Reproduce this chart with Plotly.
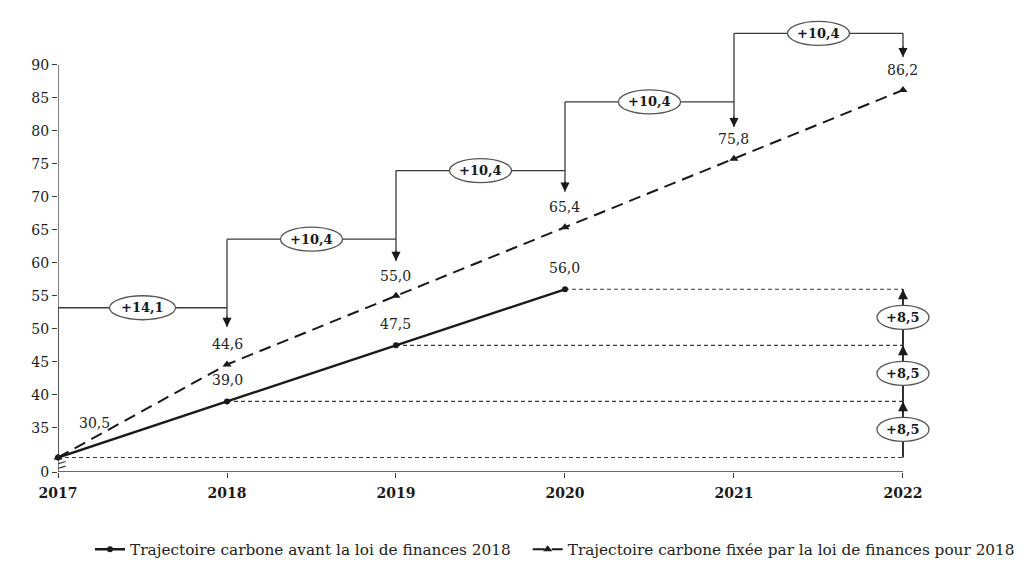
import plotly.graph_objects as go

# ---- data ----
years = [2017, 2018, 2019, 2020, 2021, 2022]
year_text = ["2017", "2018", "2019", "2020", "2021", "2022"]
before_years = [2017, 2018, 2019, 2020]
before_vals = [30.5, 39.0, 47.5, 56.0]
lf_vals = [30.5, 44.6, 55.0, 65.4, 75.8, 86.2]
step_levels = [53.2, 63.6, 74.0, 84.4, 94.8]
step_texts = ["+14,1", "+10,4", "+10,4", "+10,4", "+10,4"]
arrow_tips = [50.3, 60.3, 70.8, 80.6, 91.2]
gap_texts = ["+8,5", "+8,5", "+8,5"]
axis_base = 28.3
y_axis_top = 90
y_tick_vals = [28.3, 35, 40, 45, 50, 55, 60, 65, 70, 75, 80, 85, 90]
y_tick_text = ["0", "35", "40", "45", "50", "55", "60", "65", "70", "75", "80", "85", "90"]
name_before = "Trajectoire carbone avant la loi de finances 2018"
name_lf = "Trajectoire carbone fixée par la loi de finances pour 2018"

FONT = "DejaVu Serif"
INK = "#1a1a1a"
GREY = "#3a3a3a"


def fmt(v):
    return f"{v:.1f}".replace(".", ",")


fig = go.Figure()

fig.add_trace(go.Scatter(
    x=before_years, y=before_vals, name=name_before, mode="lines+markers",
    line=dict(color=INK, width=2.4), marker=dict(symbol="circle", size=6, color=INK),
    cliponaxis=False, legend="legend"))
fig.add_trace(go.Scatter(
    x=years, y=lf_vals, name=name_lf, mode="lines+markers",
    line=dict(color=INK, width=2, dash="12px,7px"),
    marker=dict(symbol="triangle-up", size=8, color=INK),
    cliponaxis=False, legend="legend2"))

shapes = []
ann = []

# axis lines
shapes.append(dict(type="line", xref="x", yref="y", x0=years[0], x1=years[-1],
                   y0=axis_base, y1=axis_base, line=dict(color=GREY, width=1.3), layer="below"))
shapes.append(dict(type="line", xref="x", yref="y", x0=years[0], x1=years[0],
                   y0=axis_base, y1=y_axis_top, line=dict(color=GREY, width=1.3), layer="below"))
# axis break marks
for off in (0.0, 0.7):
    shapes.append(dict(type="line", xref="x", yref="y",
                       x0=years[0] - 0.045, x1=years[0] + 0.045,
                       y0=axis_base + 0.9 - off, y1=axis_base + 1.6 - off,
                       line=dict(color=GREY, width=1.2)))

# dashed level lines
for yr, v in zip(before_years, before_vals):
    shapes.append(dict(type="line", xref="x", yref="y", x0=yr, x1=years[-1], y0=v, y1=v,
                       line=dict(color=GREY, width=1.1, dash="4px,3px"), layer="below"))

# right-side gap arrows
for i in range(len(gap_texts)):
    lo, hi = before_vals[i], before_vals[i + 1]
    shapes.append(dict(type="line", xref="x", yref="y", x0=years[-1], x1=years[-1],
                       y0=lo, y1=hi, line=dict(color=INK, width=1.8)))
    ann.append(dict(x=years[-1], y=hi, xref="x", yref="y", text="", showarrow=True,
                    ax=0, ay=12, arrowhead=2, arrowsize=1.1, arrowwidth=1.8, arrowcolor=INK))
for i, t in enumerate(gap_texts):
    mid = (before_vals[i] + before_vals[i + 1]) / 2
    shapes.append(dict(type="circle", xref="x", yref="y", xsizemode="pixel", ysizemode="pixel",
                       xanchor=years[-1], yanchor=mid, x0=-26, x1=26, y0=-12, y1=12,
                       fillcolor="white", line=dict(color="#555", width=1.3), layer="above"))
    ann.append(dict(x=years[-1], y=mid, xref="x", yref="y", text=f"<b>{t}</b>", showarrow=False,
                    font=dict(family=FONT, size=13, color=INK)))

# step brackets
shapes.append(dict(type="line", xref="x", yref="y", x0=years[0], x1=years[0],
                   y0=lf_vals[0], y1=step_levels[0], line=dict(color=GREY, width=1.3)))
n = len(step_levels)
for i in range(n):
    x0, x1 = years[i], years[i + 1]
    lvl = step_levels[i]
    shapes.append(dict(type="line", xref="x", yref="y", x0=x0, x1=x1, y0=lvl, y1=lvl,
                       line=dict(color=GREY, width=1.3)))
    top = step_levels[i + 1] if i + 1 < n else step_levels[i]
    shapes.append(dict(type="line", xref="x", yref="y", x0=x1, x1=x1, y0=top, y1=arrow_tips[i],
                       line=dict(color=GREY, width=1.3)))
    ann.append(dict(x=x1, y=arrow_tips[i], xref="x", yref="y", text="", showarrow=True,
                    ax=0, ay=-12, arrowhead=2, arrowsize=1.4, arrowwidth=1.3, arrowcolor=INK))
for i, t in enumerate(step_texts):
    cx = (years[i] + years[i + 1]) / 2
    w = 33 if i == 0 else 31
    shapes.append(dict(type="circle", xref="x", yref="y", xsizemode="pixel", ysizemode="pixel",
                       xanchor=cx, yanchor=step_levels[i], x0=-w, x1=w, y0=-12, y1=12,
                       fillcolor="white", line=dict(color="#555", width=1.3), layer="above"))
    ann.append(dict(x=cx, y=step_levels[i], xref="x", yref="y", text=f"<b>{t}</b>",
                    showarrow=False, font=dict(family=FONT, size=13, color=INK)))

# value labels
lab_font = dict(family=FONT, size=14, color="#222")
ann.append(dict(x=before_years[0], y=before_vals[0], xref="x", yref="y", text=fmt(before_vals[0]),
                showarrow=False, xshift=36, yshift=34, font=lab_font))
for yr, v in zip(before_years[1:], before_vals[1:]):
    ann.append(dict(x=yr, y=v, xref="x", yref="y", text=fmt(v), showarrow=False,
                    yshift=21, font=lab_font))
for yr, v in zip(years[1:], lf_vals[1:]):
    ann.append(dict(x=yr, y=v, xref="x", yref="y", text=fmt(v), showarrow=False,
                    yshift=20, font=lab_font))

leg_common = dict(orientation="h", xref="container", xanchor="left",
                  yref="container", y=0.042, yanchor="middle",
                  font=dict(family=FONT, size=15.3, color="#222"), itemwidth=30,
                  bgcolor="rgba(0,0,0,0)")

fig.update_layout(
    width=1025, height=565, autosize=False,
    paper_bgcolor="white", plot_bgcolor="white",
    margin=dict(l=50, r=68, t=0, b=101, autoexpand=False),
    font=dict(family=FONT, size=14, color=INK),
    shapes=shapes, annotations=ann,
    showlegend=True,
    legend=dict(x=0.080, **leg_common),
    legend2=dict(x=0.507, **leg_common),
    xaxis=dict(range=[2017, 2022.367], tickvals=years,
               ticktext=[f"<b>{t}</b>" for t in year_text],
               showgrid=False, zeroline=False, showline=False, automargin=False,
               ticks="outside", ticklen=5, tickcolor=GREY, tickwidth=1.2,
               tickfont=dict(family=FONT, size=14, color=INK), ticklabelstandoff=3),
    yaxis=dict(range=[axis_base, 98.64], tickvals=y_tick_vals, ticktext=y_tick_text,
               showgrid=False, zeroline=False, showline=False, automargin=False,
               ticks="outside", ticklen=5, tickcolor=GREY, tickwidth=1.2,
               tickfont=dict(family=FONT, size=14, color=INK)),
)

fig.write_html("out.html")
